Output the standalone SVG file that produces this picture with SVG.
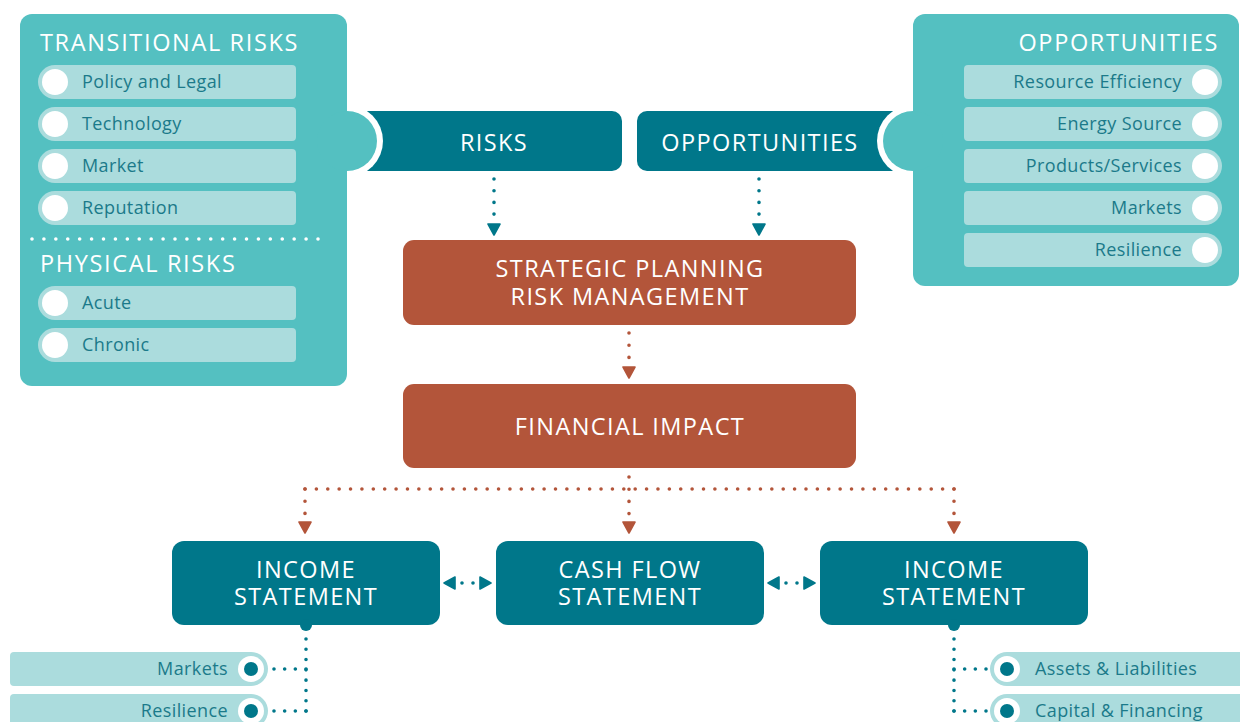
<svg xmlns="http://www.w3.org/2000/svg" xmlns:xlink="http://www.w3.org/1999/xlink" width="1240" height="722" viewBox="0 0 1240 722">
<style>
text{font-family:"Open Sans","Liberation Sans",sans-serif;}
.panel{fill:#54c0c1;}
.pill{fill:#abdcdd;}
.knob{fill:#ffffff;}
.title{fill:#ffffff;font-size:23.5px;letter-spacing:1.65px;}
.item{fill:#1b7a8a;font-size:18px;letter-spacing:0.4px;}
.box{fill:#00778a;}
.obox{fill:#b3553a;}
.btxt{fill:#ffffff;font-size:23.5px;letter-spacing:1.4px;text-anchor:middle;}
.dt{fill:none;stroke:#00778a;stroke-width:3.6;stroke-linecap:round;}
.do{fill:none;stroke:#b3553a;stroke-width:3.6;stroke-linecap:round;}
.at{fill:#00778a;stroke:#00778a;}
.ao{fill:#b3553a;stroke:#b3553a;}
</style>
<defs>
<path id="ah" d="M-6,0 L6,0 L0,11 Z" stroke-width="1.6" stroke-linejoin="round"/>
<path id="lpill" d="M0,0 H237 a4,4 0 0 1 4,4 V30 a4,4 0 0 1 -4,4 H0 a17,17 0 0 1 0,-34 Z"/>
<path id="rpill" d="M0,0 H-237 a4,4 0 0 0 -4,4 V30 a4,4 0 0 0 4,4 H0 a17,17 0 0 0 0,-34 Z"/>
</defs>
<rect width="1240" height="722" fill="#ffffff"/>

<g id="risks-box">
<path class="box" d="M360,111 H612 a10,10 0 0 1 10,10 V161 a10,10 0 0 1 -10,10 H360 Z"/>
<circle cx="347" cy="141" r="36" fill="#ffffff"/>
<text class="btxt" x="494" y="151">RISKS</text>
</g>
<g id="opportunities-box">
<path class="box" d="M900,111 H647 a10,10 0 0 0 -10,10 V161 a10,10 0 0 0 10,10 H900 Z"/>
<circle cx="913" cy="141" r="36" fill="#ffffff"/>
<text class="btxt" x="760" y="151">OPPORTUNITIES</text>
</g>

<g id="transitional-risks-panel">
<rect class="panel" x="20" y="14" width="327" height="372" rx="12"/>
<circle class="panel" cx="347" cy="141" r="30"/>
<text class="title" x="40" y="51">TRANSITIONAL RISKS</text>
<use xlink:href="#lpill" class="pill" x="55" y="65"/>
<circle class="knob" cx="55" cy="82" r="13"/>
<text class="item" x="82" y="88">Policy and Legal</text>
<use xlink:href="#lpill" class="pill" x="55" y="107"/>
<circle class="knob" cx="55" cy="124" r="13"/>
<text class="item" x="82" y="130">Technology</text>
<use xlink:href="#lpill" class="pill" x="55" y="149"/>
<circle class="knob" cx="55" cy="166" r="13"/>
<text class="item" x="82" y="172">Market</text>
<use xlink:href="#lpill" class="pill" x="55" y="191"/>
<circle class="knob" cx="55" cy="208" r="13"/>
<text class="item" x="82" y="214">Reputation</text>
<path d="M32,239 H318.5" fill="none" stroke="#ffffff" stroke-width="3.6" stroke-linecap="round" stroke-dasharray="0 11.917"/>
<text class="title" x="40" y="272">PHYSICAL RISKS</text>
<use xlink:href="#lpill" class="pill" x="55" y="286"/>
<circle class="knob" cx="55" cy="303" r="13"/>
<text class="item" x="82" y="309">Acute</text>
<use xlink:href="#lpill" class="pill" x="55" y="328"/>
<circle class="knob" cx="55" cy="345" r="13"/>
<text class="item" x="82" y="351">Chronic</text>
</g>

<g id="opportunities-panel">
<rect class="panel" x="913" y="14" width="326" height="272" rx="12"/>
<circle class="panel" cx="913" cy="141" r="30"/>
<text class="title" x="1219" y="51" text-anchor="end">OPPORTUNITIES</text>
<use xlink:href="#rpill" class="pill" x="1205" y="65"/>
<circle class="knob" cx="1205" cy="82" r="13"/>
<text class="item" x="1182" y="88" text-anchor="end">Resource Efficiency</text>
<use xlink:href="#rpill" class="pill" x="1205" y="107"/>
<circle class="knob" cx="1205" cy="124" r="13"/>
<text class="item" x="1182" y="130" text-anchor="end">Energy Source</text>
<use xlink:href="#rpill" class="pill" x="1205" y="149"/>
<circle class="knob" cx="1205" cy="166" r="13"/>
<text class="item" x="1182" y="172" text-anchor="end">Products/Services</text>
<use xlink:href="#rpill" class="pill" x="1205" y="191"/>
<circle class="knob" cx="1205" cy="208" r="13"/>
<text class="item" x="1182" y="214" text-anchor="end">Markets</text>
<use xlink:href="#rpill" class="pill" x="1205" y="233"/>
<circle class="knob" cx="1205" cy="250" r="13"/>
<text class="item" x="1182" y="256" text-anchor="end">Resilience</text>
</g>

<g id="strategic-planning">
<rect class="obox" x="403" y="240" width="453" height="85" rx="11"/>
<text class="btxt"><tspan x="630" y="277">STRATEGIC PLANNING</tspan><tspan x="630" y="305">RISK MANAGEMENT</tspan></text>
</g>
<g id="financial-impact">
<rect class="obox" x="403" y="384" width="453" height="84" rx="11"/>
<text class="btxt" x="630" y="435">FINANCIAL IMPACT</text>
</g>

<g id="income-statement-left">
<rect class="box" x="172" y="541" width="268" height="84" rx="12"/>
<circle class="box" cx="306" cy="625" r="6"/>
<text class="btxt"><tspan x="306" y="578">INCOME</tspan><tspan x="306" y="605">STATEMENT</tspan></text>
</g>
<g id="cash-flow-statement">
<rect class="box" x="496" y="541" width="268" height="84" rx="12"/>
<text class="btxt"><tspan x="630" y="578">CASH FLOW</tspan><tspan x="630" y="605">STATEMENT</tspan></text>
</g>
<g id="income-statement-right">
<rect class="box" x="820" y="541" width="268" height="84" rx="12"/>
<circle class="box" cx="954" cy="625" r="6"/>
<text class="btxt"><tspan x="954" y="578">INCOME</tspan><tspan x="954" y="605">STATEMENT</tspan></text>
</g>

<g id="left-items">
<path class="pill" d="M14,652 H251 a17,17 0 0 1 0,34 H14 a4,4 0 0 1 -4,-4 V656 a4,4 0 0 1 4,-4 Z"/>
<circle class="knob" cx="251" cy="669" r="13"/>
<circle class="box" cx="251" cy="669" r="7"/>
<text class="item" x="228" y="675" text-anchor="end">Markets</text>
<path class="pill" d="M14,694 H251 a17,17 0 0 1 0,34 H14 a4,4 0 0 1 -4,-4 V698 a4,4 0 0 1 4,-4 Z"/>
<circle class="knob" cx="251" cy="711" r="13"/>
<circle class="box" cx="251" cy="711" r="7"/>
<text class="item" x="228" y="717" text-anchor="end">Resilience</text>
</g>
<g id="right-items">
<path class="pill" d="M1007,652 H1250 V686 H1007 a17,17 0 0 1 0,-34 Z"/>
<circle class="knob" cx="1007" cy="669" r="13"/>
<circle class="box" cx="1007" cy="669" r="7"/>
<text class="item" x="1035" y="675">Assets &amp; Liabilities</text>
<path class="pill" d="M1007,694 H1250 V728 H1007 a17,17 0 0 1 0,-34 Z"/>
<circle class="knob" cx="1007" cy="711" r="13"/>
<circle class="box" cx="1007" cy="711" r="7"/>
<text class="item" x="1035" y="717">Capital &amp; Financing</text>
</g>

<g id="connectors">
<path class="dt" d="M494,179 V215" stroke-dasharray="0 11.7"/>
<use xlink:href="#ah" class="at" transform="translate(494,224)"/>
<path class="dt" d="M759,179 V215" stroke-dasharray="0 11.7"/>
<use xlink:href="#ah" class="at" transform="translate(759,224)"/>
<path class="do" d="M629,333 V358" stroke-dasharray="0 12.2"/>
<use xlink:href="#ah" class="ao" transform="translate(629,367)"/>
<path class="do" d="M629,477 V514" stroke-dasharray="0 12.2"/>
<path class="do" d="M305,489 H954.5" stroke-dasharray="0 11.386"/>
<path class="do" d="M305,489 V514" stroke-dasharray="0 12.2"/>
<path class="do" d="M954,489 V514" stroke-dasharray="0 12.2"/>
<use xlink:href="#ah" class="ao" transform="translate(305,522)"/>
<use xlink:href="#ah" class="ao" transform="translate(629,522)"/>
<use xlink:href="#ah" class="ao" transform="translate(954,522)"/>
<use xlink:href="#ah" class="at" transform="translate(455,583) rotate(90)"/>
<path class="dt" d="M462,583 H473.5" stroke-dasharray="0 11"/>
<use xlink:href="#ah" class="at" transform="translate(480,583) rotate(-90)"/>
<use xlink:href="#ah" class="at" transform="translate(779,583) rotate(90)"/>
<path class="dt" d="M786,583 H797.5" stroke-dasharray="0 11"/>
<use xlink:href="#ah" class="at" transform="translate(804,583) rotate(-90)"/>
<path class="dt" d="M306,639 V711.5" stroke-dasharray="0 10.286"/>
<path class="dt" d="M274,669 H306.5" stroke-dasharray="0 10.667"/>
<path class="dt" d="M274,711 H306.5" stroke-dasharray="0 10.667"/>
<path class="dt" d="M954,639 V711.5" stroke-dasharray="0 10.286"/>
<path class="dt" d="M954,669 H986.5" stroke-dasharray="0 10.667"/>
<path class="dt" d="M954,711 H986.5" stroke-dasharray="0 10.667"/>
</g>
</svg>
